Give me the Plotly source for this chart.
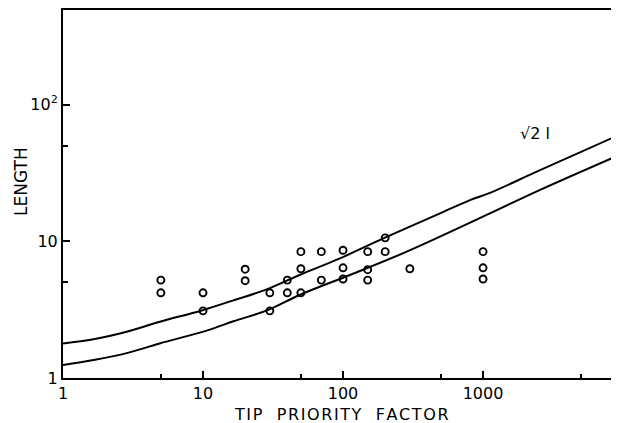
import plotly.graph_objects as go

# Observed data points (tip priority factor, length)
pts_x = [5, 5, 10, 10, 20, 20, 30, 30, 40, 40, 50, 50, 50, 70, 70,
         100, 100, 100, 150, 150, 150, 200, 200, 300, 1000, 1000, 1000]
pts_y = [5.2, 4.2, 4.2, 3.1, 6.25, 5.15, 4.2, 3.1, 5.2, 4.2, 8.4, 6.3, 4.2, 8.4, 5.2,
         8.6, 6.4, 5.3, 8.4, 6.2, 5.2, 10.6, 8.4, 6.3, 8.4, 6.4, 5.3]

# Upper curve (sqrt(2) l)
upper_x = [1, 1.65, 2.85, 4.93, 9.8, 16.5, 28.5, 49, 95, 194, 493, 807, 1122, 2417, 9360]
upper_y = [1.79, 1.92, 2.18, 2.58, 3.12, 3.7, 4.45, 5.67, 7.5, 10.5, 16.0, 20.0, 22.6, 32.3, 60]

# Lower curve (l)
lower_x = [1, 1.65, 2.85, 4.9, 10.9, 16.5, 29, 49, 112, 285, 1120, 2400, 9400]
lower_y = [1.245, 1.355, 1.52, 1.79, 2.24, 2.6, 3.14, 4.05, 5.67, 8.4, 16.0, 23.1, 42.8]

x_tick_vals = [1, 10, 100, 1000]
x_tick_text = ["1", "10", "100", "1000"]
x_minor_vals = [5, 50, 500, 5000]
y_tick_vals = [1, 10, 100]
y_tick_text = ["1", "10", "10<sup>2</sup>"]
y_minor_vals = [5, 50]

FONT = "DejaVu Sans"
LETTER_GAP = "\u200a"          # hair space between letters
WORD_GAP = "\u2009\u2002\u2009"  # wider gap between words


def spaced(s):
    return WORD_GAP.join(LETTER_GAP.join(w) for w in s.split(" "))


fig = go.Figure()
fig.add_trace(go.Scatter(x=upper_x, y=upper_y, mode="lines",
                         line=dict(color="black", width=2, shape="spline", smoothing=1),
                         showlegend=False, hoverinfo="skip"))
fig.add_trace(go.Scatter(x=lower_x, y=lower_y, mode="lines",
                         line=dict(color="black", width=2, shape="spline", smoothing=1),
                         showlegend=False, hoverinfo="skip"))
fig.add_trace(go.Scatter(x=pts_x, y=pts_y, mode="markers",
                         marker=dict(symbol="circle-open", size=7, color="black",
                                     line=dict(width=1.9, color="black")),
                         showlegend=False))

# page body has an 8px margin, so the figure is shifted by 8px
fig.update_layout(
    width=611, height=415,
    margin=dict(l=55, r=0, t=2, b=45),
    paper_bgcolor="white", plot_bgcolor="white",
    font=dict(family=FONT, size=16, color="black"),
    xaxis=dict(type="log", range=[0, 3.971], showgrid=False, zeroline=False,
               showline=True, linecolor="black", linewidth=2, mirror=True,
               tickmode="array", tickvals=x_tick_vals, ticktext=x_tick_text,
               ticks="inside", ticklen=7, tickwidth=1.5, tickcolor="black",
               ticklabelstandoff=0,
               minor=dict(tickmode="array", tickvals=x_minor_vals, ticks="inside",
                          ticklen=4, tickwidth=1.5, tickcolor="black", showgrid=False)),
    yaxis=dict(type="log", range=[0, 2.692], showgrid=False, zeroline=False,
               showline=True, linecolor="black", linewidth=2, mirror=False,
               tickmode="array", tickvals=y_tick_vals, ticktext=y_tick_text,
               ticks="inside", ticklen=7, tickwidth=1.5, tickcolor="black",
               ticklabelstandoff=0,
               minor=dict(tickmode="array", tickvals=y_minor_vals, ticks="inside",
                          ticklen=5, tickwidth=1.5, tickcolor="black", showgrid=False)),
)

fig.add_annotation(text=spaced("TIP PRIORITY FACTOR"), xref="paper", yref="paper",
                   x=(341 - 63) / 556, y=-(414 - 378) / 368, showarrow=False,
                   font=dict(family=FONT, size=16), xanchor="center", yanchor="middle")
fig.add_annotation(text="LENGTH", xref="paper", yref="paper",
                   x=-(63 - 21) / 556, y=(378 - 182) / 368, showarrow=False,
                   textangle=-90, font=dict(family=FONT, size=17),
                   xanchor="center", yanchor="middle")
fig.add_annotation(text="\u221a2 l", x=3.37, y=1.79, showarrow=False,
                   font=dict(family=FONT, size=16), xanchor="center", yanchor="middle")

fig.write_html("out.html")
